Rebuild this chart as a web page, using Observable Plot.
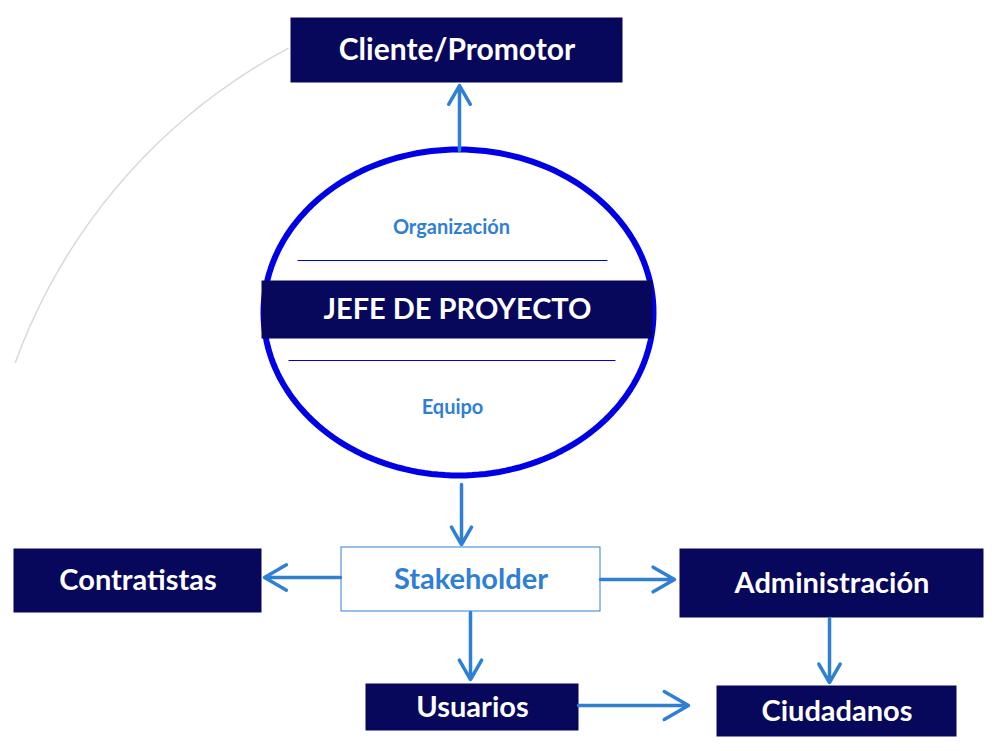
<!DOCTYPE html>
<html><head><meta charset="utf-8">
<script src="https://cdn.jsdelivr.net/npm/d3@7"></script>
<script src="https://cdn.jsdelivr.net/npm/@observablehq/plot@0.6"></script>
<style>body{margin:0;background:#fff}</style>
</head><body><div id="chart"></div>
<script>
// boxes in diagram units (0..998 wide, 0..751 tall, y down)
const boxNames = ["Cliente/Promotor", "JEFE DE PROYECTO", "Contratistas", "Stakeholder", "Administración", "Usuarios", "Ciudadanos"];
const boxX1 = [291, 262, 14, 341, 680, 366, 717];
const boxX2 = [622, 652, 261, 600, 983, 578, 956];
const boxY1 = [18, 281, 549, 547, 549, 684, 686];
const boxY2 = [82, 338, 612, 611, 617, 730, 736];
const boxFontSize = [30, 29, 29, 29, 29, 29, 29];

const arrowFrom = [[459, 150], [461, 484], [340, 577], [600, 579], [470, 612], [829, 618], [578, 705]];
const arrowTo = [[459, 85], [461, 544], [264, 577], [674, 579], [470, 679], [829, 682], [688, 705]];

const dividerY = [260, 360];
const dividerX1 = [297, 288];
const dividerX2 = [607, 615];

const subLabels = ["Organización", "Equipo"];
const subX = [451, 452];
const subY = [227, 407];

const navy = "#07075c";
const blue = "#2f80d4";

const boxes = boxNames.map((name, i) => ({name, x1: boxX1[i], x2: boxX2[i], y1: boxY1[i], y2: boxY2[i], fs: boxFontSize[i], light: name === "Stakeholder"}));
const arrows = arrowFrom.map((f, i) => ({x1: f[0], y1: f[1], x2: arrowTo[i][0], y2: arrowTo[i][1]}));
const dividers = dividerY.map((y, i) => ({y, x1: dividerX1[i], x2: dividerX2[i]}));
const subs = subLabels.map((t, i) => ({t, x: subX[i], y: subY[i]}));

// ellipse outline around the project manager
const ellipse = d3.range(0, 361, 2).map(a => ({x: 458 + 195 * Math.cos(a * Math.PI / 180), y: 312 + 163 * Math.sin(a * Math.PI / 180)}));
const arc = d3.range(200, 243, 2).map(a => ({x: 560 + 580 * Math.cos(a * Math.PI / 180), y: 560 + 580 * Math.sin(a * Math.PI / 180)}));

const chart = Plot.plot({
  width: 998, height: 751, margin: 0,
  x: {domain: [0, 998], axis: null},
  y: {domain: [0, 751], range: [0, 751], axis: null},
  style: {fontFamily: "Lato, 'Open Sans', sans-serif"},
  marks: [
    Plot.line(arc, {x: "x", y: "y", stroke: "#d8d8e4", strokeWidth: 1.5}),
    Plot.line(ellipse, {x: "x", y: "y", stroke: "#0000e6", strokeWidth: 6}),
    Plot.rect(boxes, {x1: "x1", x2: "x2", y1: "y1", y2: "y2", fill: d => d.light ? "white" : navy, stroke: d => d.light ? blue : navy, strokeWidth: 1}),
    Plot.link(dividers, {x1: "x1", x2: "x2", y1: "y", y2: "y", stroke: "#0000e6", strokeWidth: 1}),
    Plot.arrow(arrows, {x1: "x1", y1: "y1", x2: "x2", y2: "y2", stroke: blue, strokeWidth: 3.5, headLength: 12}),
    Plot.text(boxes, {x: d => (d.x1 + d.x2) / 2, y: d => (d.y1 + d.y2) / 2, text: "name", fill: d => d.light ? blue : "white", fontSize: "fs", fontWeight: "bold"}),
    Plot.text(subs, {x: "x", y: "y", text: "t", fill: blue, fontSize: 20, fontWeight: "bold"})
  ]
});
document.getElementById("chart").append(chart);
</script>
</body></html>
